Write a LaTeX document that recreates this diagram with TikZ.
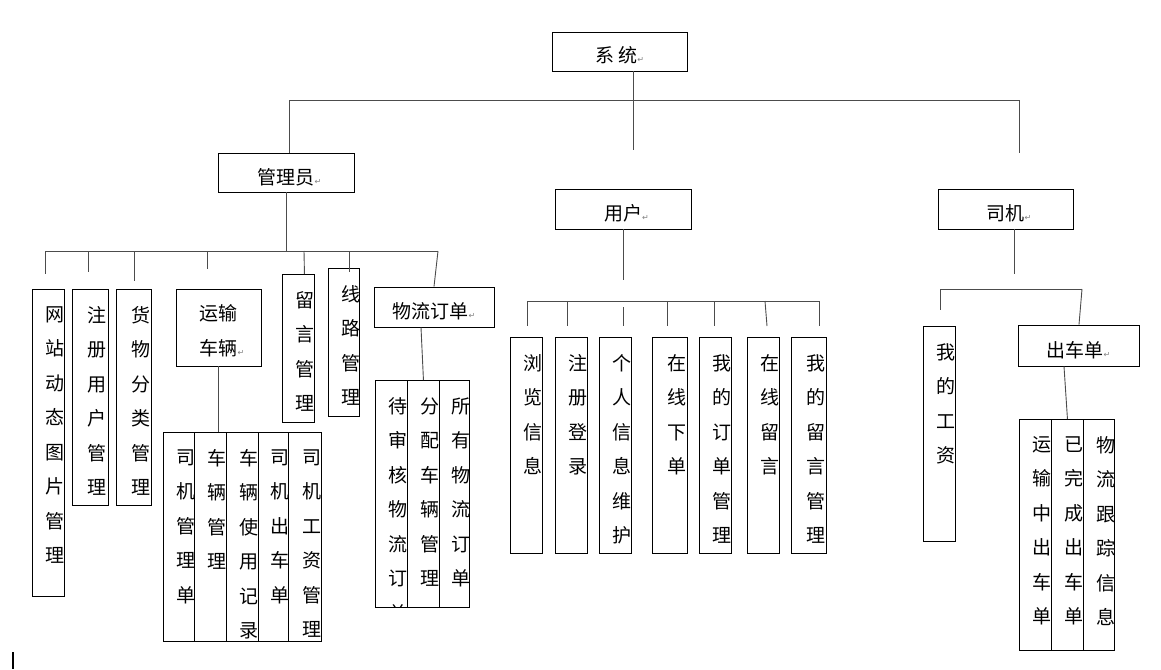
\documentclass[tikz,border=0pt]{standalone}
\usepackage{fontspec}
\newfontfamily\zh{Noto Sans CJK SC}
\newfontfamily\symf{DejaVu Sans}
\XeTeXlinebreaklocale "zh"
\XeTeXlinebreakskip=0pt plus 1pt
\newcommand{\pmk}{{\symf\fontsize{8}{8}\selectfont\textcolor{gray}{↵}}}

\begin{document}
\begin{tikzpicture}[x=1pt,y=-1pt,
  every node/.style={font=\zh\fontsize{19}{34.5}\selectfont},
  hbox/.style={draw,line width=0.9pt,inner sep=0pt,text height=23pt,text depth=0pt},
  col/.style={draw,line width=0.9pt,inner sep=0pt,anchor=north west,
    path picture={\node[draw=none,inner sep=0pt,minimum size=0pt,text width=21pt,align=center,anchor=north]
      at ([xshift=7pt,yshift=-16.5pt]path picture bounding box.north) {#1};}},
  link/.style={draw=black!70,line width=0.9pt}]
\useasboundingbox (0,0) rectangle (1161,669);

% top level
\node[hbox,minimum width=135pt,minimum height=39pt] (sys) at (619.5,51.5) {系 统\pmk};
\node[hbox,minimum width=136pt,minimum height=39pt] (admin) at (286,172.5) {管理员\rlap{\pmk}};
\node[hbox,minimum width=136pt,minimum height=40pt] (user) at (623,209) {用户\rlap{\pmk}};
\node[hbox,minimum width=135pt,minimum height=40pt] (drv) at (1005.5,209) {司机\rlap{\pmk}};

% admin
\node[col=网站动态图片管理,minimum width=32pt,minimum height=307pt] (site) at (32,289) {};
\node[col=注册用户管理,minimum width=36pt,minimum height=216pt] (reguser) at (72,289) {};
\node[col=货物分类管理,minimum width=35pt,minimum height=216pt] (goods) at (116,289) {};
\node[draw,line width=0.9pt,inner sep=0pt,text height=58pt,text depth=3pt,minimum width=85pt,minimum height=77pt,align=center] (veh) at (218.5,327.5) {运输\\车辆\rlap{\pmk}};
\node[col=留言管理,minimum width=32pt,minimum height=148pt] (msg) at (282,274) {};
\node[col=线路管理,minimum width=31pt,minimum height=148pt] (route) at (328,268) {};
\node[hbox,minimum width=120pt,minimum height=40pt] (order) at (434,307) {物流订单\pmk};
\node[col=司机管理单,minimum width=31pt,minimum height=209pt] (v1) at (163,432) {};
\node[col=车辆管理,minimum width=32pt,minimum height=209pt] (v2) at (194,432) {};
\node[col=车辆使用记录,minimum width=32pt,minimum height=209pt] (v3) at (226,432) {};
\node[col=司机出车单,minimum width=30pt,minimum height=209pt] (v4) at (258,432) {};
\node[col=司机工资管理,minimum width=33pt,minimum height=209pt] (v5) at (288,432) {};
\node[col=待审核物流订单,minimum width=32pt,minimum height=227pt] (o1) at (375,380) {};
\node[col=分配车辆管理,minimum width=32pt,minimum height=227pt] (o2) at (407,380) {};
\node[col=所有物流订单,minimum width=30pt,minimum height=227pt] (o3) at (439,380) {};

% user
\node[col=浏览信息,minimum width=32pt,minimum height=216pt] (u1) at (510,337) {};
\node[col=注册登录,minimum width=32pt,minimum height=216pt] (u2) at (555,337) {};
\node[col=个人信息维护,minimum width=32pt,minimum height=216pt] (u3) at (599,337) {};
\node[col=在线下单,minimum width=35pt,minimum height=216pt] (u4) at (652,337) {};
\node[col=我的订单管理,minimum width=32pt,minimum height=216pt] (u5) at (699,337) {};
\node[col=在线留言,minimum width=32pt,minimum height=216pt] (u6) at (747,337) {};
\node[col=我的留言管理,minimum width=35pt,minimum height=216pt] (u7) at (791,337) {};

% driver
\node[col=我的工资,minimum width=32pt,minimum height=215pt] (wage) at (923,326) {};
\node[hbox,minimum width=121pt,minimum height=41pt] (trip) at (1078.5,345.5) {出车单\pmk};
\node[col=运输中出车单,minimum width=32pt,minimum height=231pt] (c1) at (1019,419) {};
\node[col=已完成出车单,minimum width=32pt,minimum height=231pt] (c2) at (1051,419) {};
\node[col=物流跟踪信息,minimum width=31pt,minimum height=231pt] (c3) at (1083,419) {};

% bars
\coordinate (tl) at (289,100); \coordinate (tr) at (1019,100);
\coordinate (al) at (45,251); \coordinate (ar) at (438,251);
\coordinate (ul) at (527,301); \coordinate (ur) at (819,301);
\coordinate (dl) at (940,289); \coordinate (dr) at (1082,289);
\draw[link] (tl) -- (tr);
\draw[link] (al) -- (ar);
\draw[link] (ul) -- (ur);
\draw[link] (dl) -- (dr);

% connectors
\draw[link] ([xshift=14pt]sys.south) -- (633.5,150);
\draw[link] (tl) -- (tl |- admin.north);
\draw[link] (tr) -- (1019,153);
\draw[link] (admin.south) -- (admin.south |- al);
\foreach \x/\y in {45/274,88/272,134/281,207/269,349/272}
  \draw[link] (\x,251) -- (\x,\y);
\draw[link] (304,251) -- ([xshift=6pt]msg.north);
\draw[link] (ar) -- (order.north);
\draw[link] (veh.south) -- (veh.south |- v2.north);
\draw[link] ([xshift=-13pt]order.south) -- (o2.north);
\draw[link] (user.south) -- (623,280);
\foreach \x in {527,567,667,714,819}
  \draw[link] (\x,301) -- (\x,326);
\draw[link] (623,307) -- (623,326);
\draw[link] (765,301) -- (767,326);
\draw[link] ([xshift=8.5pt]drv.south) -- (1014,274);
\draw[link] (dl) -- (940,310);
\draw[link] (dr) -- ([xshift=0.5pt]trip.north);
\draw[link] ([xshift=-14.5pt]trip.south) -- (c2.north);

% cursor
\draw[line width=1.2pt] (13,652) -- (13,669);
\end{tikzpicture}
\end{document}
